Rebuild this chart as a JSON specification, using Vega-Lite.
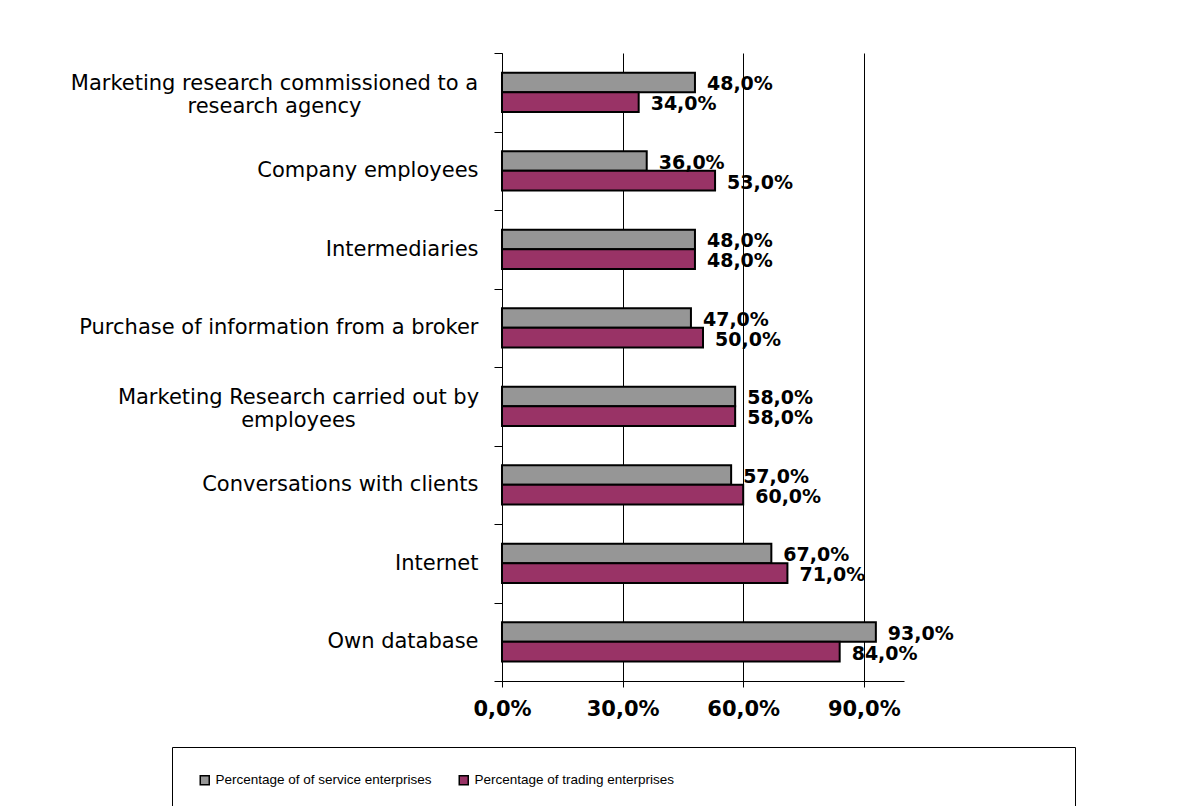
{
  "$schema": "https://vega.github.io/schema/vega-lite/v6.json",
  "width": 402,
  "height": 628,
  "autosize": "none",
  "padding": {"left": 502, "top": 53, "right": 285, "bottom": 125},
  "background": "white",
  "config": {
    "locale": {"number": {"decimal": ",", "thousands": ".", "grouping": [3], "currency": ["", " €"]}},
    "view": {"stroke": null},
    "font": "DejaVu Sans"
  },
  "data": {
    "values": [
      {"source": "Marketing research commissioned to a research agency", "group": "Percentage of of service enterprises", "share": 0.48},
      {"source": "Marketing research commissioned to a research agency", "group": "Percentage of trading enterprises", "share": 0.34},
      {"source": "Company employees", "group": "Percentage of of service enterprises", "share": 0.36},
      {"source": "Company employees", "group": "Percentage of trading enterprises", "share": 0.53},
      {"source": "Intermediaries", "group": "Percentage of of service enterprises", "share": 0.48},
      {"source": "Intermediaries", "group": "Percentage of trading enterprises", "share": 0.48},
      {"source": "Purchase of information from a broker", "group": "Percentage of of service enterprises", "share": 0.47},
      {"source": "Purchase of information from a broker", "group": "Percentage of trading enterprises", "share": 0.50},
      {"source": "Marketing Research carried out by employees", "group": "Percentage of of service enterprises", "share": 0.58},
      {"source": "Marketing Research carried out by employees", "group": "Percentage of trading enterprises", "share": 0.58},
      {"source": "Conversations with clients", "group": "Percentage of of service enterprises", "share": 0.57},
      {"source": "Conversations with clients", "group": "Percentage of trading enterprises", "share": 0.60},
      {"source": "Internet", "group": "Percentage of of service enterprises", "share": 0.67},
      {"source": "Internet", "group": "Percentage of trading enterprises", "share": 0.71},
      {"source": "Own database", "group": "Percentage of of service enterprises", "share": 0.93},
      {"source": "Own database", "group": "Percentage of trading enterprises", "share": 0.84}
    ]
  },
  "encoding": {
    "y": {
      "field": "source",
      "type": "nominal",
      "sort": null,
      "scale": {"paddingInner": 0, "paddingOuter": 0},
      "axis": {
        "title": null,
        "tickBand": "extent",
        "tickSize": 8,
        "tickColor": "black",
        "domainColor": "black",
        "labelFont": "DejaVu Sans",
        "labelFontSize": 21,
        "labelColor": "black",
        "labelLimit": 500,
        "labelLineHeight": 23,
        "labelAlign": {
          "condition": {"test": "datum.value == 'Marketing research commissioned to a research agency' || datum.value == 'Marketing Research carried out by employees'", "value": "center"},
          "value": "right"
        },
        "labelPadding": {
          "condition": [
            {"test": "datum.value == 'Marketing research commissioned to a research agency'", "value": 220},
            {"test": "datum.value == 'Marketing Research carried out by employees'", "value": 196}
          ],
          "value": 16
        },
        "labelOffset": {
          "condition": {"test": "datum.value == 'Marketing research commissioned to a research agency' || datum.value == 'Marketing Research carried out by employees'", "value": -9},
          "value": 0
        },
        "labelExpr": "datum.value == 'Marketing research commissioned to a research agency' ? ['Marketing research commissioned to a', 'research agency'] : datum.value == 'Marketing Research carried out by employees' ? ['Marketing Research carried out by', 'employees'] : datum.value"
      }
    },
    "yOffset": {
      "field": "group",
      "type": "nominal",
      "sort": ["Percentage of of service enterprises", "Percentage of trading enterprises"],
      "scale": {"paddingInner": 0, "paddingOuter": 1}
    },
    "x": {
      "field": "share",
      "type": "quantitative",
      "scale": {"domain": [0, 1], "nice": false},
      "axis": {
        "title": null,
        "values": [0, 0.3, 0.6, 0.9],
        "format": ".1%",
        "grid": true,
        "gridColor": "black",
        "gridOpacity": 1,
        "gridWidth": 1,
        "tickSize": 6,
        "tickColor": "black",
        "domainColor": "black",
        "labelFont": "DejaVu Sans",
        "labelFontWeight": "bold",
        "labelFontSize": 21,
        "labelColor": "black",
        "labelPadding": 11,
        "labelFlush": false,
        "labelOverlap": false
      }
    }
  },
  "layer": [
    {
      "mark": {"type": "bar", "stroke": "black", "strokeWidth": 2},
      "encoding": {
        "color": {
          "field": "group",
          "type": "nominal",
          "scale": {
            "domain": ["Percentage of of service enterprises", "Percentage of trading enterprises"],
            "range": ["#969696", "#993366"]
          },
          "legend": {
            "title": "\u2800\u2800\u2800\u2800\u2800\u2800\u2800\u2800\u2800\u2800\u2800\u2800\u2800\u2800\u2800\u2800\u2800\u2800\u2800\u2800\u2800\u2800\u2800\u2800",
            "titleOrient": "right",
            "titleFont": "DejaVu Sans",
            "titleFontSize": 20,
            "titleLimit": 1000,
            "titlePadding": 0,
            "orient": "none",
            "legendX": -330,
            "legendY": 694,
            "direction": "horizontal",
            "columns": 2,
            "columnPadding": 24,
            "symbolType": "square",
            "symbolSize": 81,
            "symbolStrokeColor": "black",
            "symbolStrokeWidth": 1.5,
            "symbolOpacity": 1,
            "labelFont": "Liberation Sans",
            "labelFontSize": 13.5,
            "labelColor": "black",
            "labelOffset": 4,
            "labelLimit": 400,
            "padding": 26,
            "strokeColor": "black"
          }
        }
      }
    },
    {
      "mark": {"type": "text", "align": "left", "baseline": "middle", "dx": 12, "dy": 2, "font": "DejaVu Sans", "fontWeight": "bold", "fontSize": 19, "color": "black"},
      "encoding": {
        "text": {"field": "share", "type": "quantitative", "format": ".1%"}
      }
    }
  ]
}
